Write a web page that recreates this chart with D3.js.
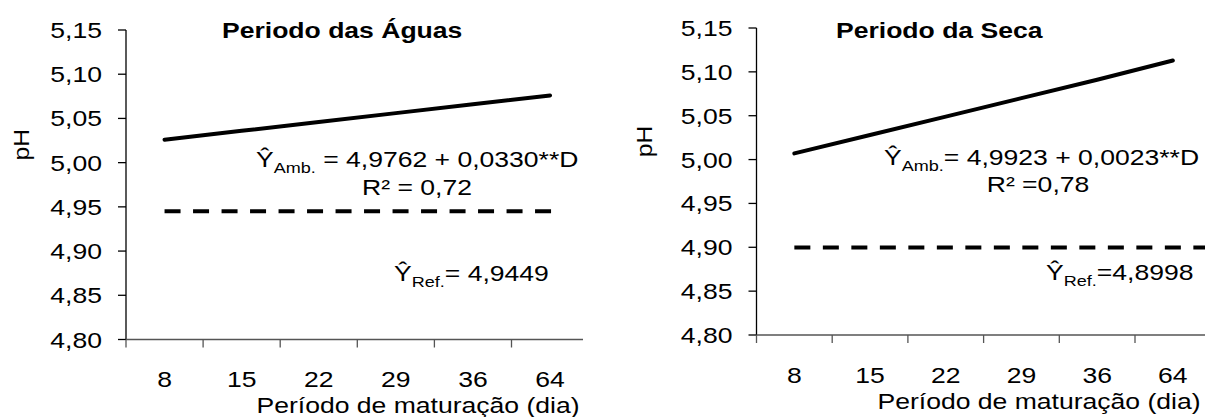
<!DOCTYPE html>
<html>
<head>
<meta charset="utf-8">
<script src="https://cdn.jsdelivr.net/npm/d3@7"></script>
<style>
  html, body { margin: 0; padding: 0; background: #fff; }
  svg { display: block; font-family: "Liberation Sans", Arial, sans-serif; }
</style>
</head>
<body>
<svg id="chart" width="1205" height="417"></svg>
<script>
// Maturation days (categories) and pH tick values
const categories = ["8", "15", "22", "29", "36", "64"];
const yTicks = [4.80, 4.85, 4.90, 4.95, 5.00, 5.05, 5.10, 5.15];

// Período das Águas
const ambAguas = [5.026, 5.036, 5.046, 5.056, 5.066, 5.076];
const refAguas = [4.9449, 4.9449, 4.9449, 4.9449, 4.9449, 4.9449];

// Período da Seca
const ambSeca = [5.007, 5.028, 5.049, 5.070, 5.091, 5.113];
const refSeca = [4.8998, 4.8998, 4.8998, 4.8998, 4.8998, 4.8998];

const panels = [
  {
    title: "Periodo das Águas", amb: ambAguas, ref: refAguas,
    eqAmb: " = 4,9762 + 0,0330**D", r2: "R² = 0,72", eqRef: "= 4,9449",
    x0: 126, step: 77.1, xEnd: 583, yTop: 30, yBot: 339.5, refExt: 12,
    titleX: 222, titleY: 38, eqX: 256, r2X: 417, refX: 394, pHX: 29, xTitleX: 418,
    eqY: 167, r2Y: 195, refY: 281, tickY: 387, xTitleY: 412.5
  },
  {
    title: "Periodo da Seca", amb: ambSeca, ref: refSeca,
    eqAmb: "= 4,9923 + 0,0023**D", r2: "R² =0,78", eqRef: "=4,8998",
    x0: 756.5, step: 75.7, xEnd: 1205, yTop: 28, yBot: 335, refExt: 40,
    titleX: 836, titleY: 38, eqX: 884, r2X: 1038, refX: 1046, pHX: 652, xTitleX: 1039,
    eqY: 165, r2Y: 192, refY: 280, tickY: 383, xTitleY: 409
  }
];

const FS = 22.5;   // base font size
const SX = 1.18;   // horizontal text stretch
const svg = d3.select("#chart");
const fmt = v => d3.format(".2f")(v).replace(".", ",");

// text at (x,y) with horizontal stretch
function stretched(g, x, y, anchor) {
  return g.append("text")
    .attr("transform", `translate(${x},${y}) scale(${SX},1)`)
    .attr("text-anchor", anchor || "start")
    .attr("font-size", FS)
    .attr("fill", "#000");
}

// Ŷ with subscript followed by the rest of the expression
function hatY(t, sub, rest) {
  t.append("tspan").text("Ŷ");
  t.append("tspan").attr("font-size", FS * 0.68).attr("dy", 6).text(sub);
  t.append("tspan").attr("dy", -6).text(rest);
}

panels.forEach(p => {
  const g = svg.append("g");
  const x = d3.scaleBand().domain(categories).range([p.x0, p.x0 + p.step * categories.length]);
  const y = d3.scaleLinear().domain([4.80, 5.15]).range([p.yBot, p.yTop]);
  const cx = c => x(c) + x.bandwidth() / 2;

  // y axis
  g.append("line").attr("x1", p.x0).attr("x2", p.x0)
    .attr("y1", y(5.15)).attr("y2", y(4.80)).attr("stroke", "#000").attr("stroke-width", 1.3);
  yTicks.forEach(v => {
    g.append("line").attr("x1", p.x0 - 8).attr("x2", p.x0)
      .attr("y1", y(v)).attr("y2", y(v)).attr("stroke", "#000").attr("stroke-width", 1.3);
    stretched(g, p.x0 - 24, y(v) + 8, "end").text(fmt(v));
  });

  // x axis with ticks between categories
  g.append("line").attr("x1", p.x0).attr("x2", p.xEnd)
    .attr("y1", p.yBot).attr("y2", p.yBot).attr("stroke", "#555").attr("stroke-width", 1.3);
  categories.forEach(c => {
    g.append("line").attr("x1", x(c)).attr("x2", x(c))
      .attr("y1", p.yBot).attr("y2", p.yBot + 8).attr("stroke", "#555").attr("stroke-width", 1.3);
    stretched(g, cx(c), p.tickY, "middle").text(c);
  });

  // axis titles
  stretched(g, p.xTitleX, p.xTitleY, "middle").text("Período de maturação (dia)");
  g.append("text")
    .attr("transform", `translate(${p.pHX},${(p.yTop + p.yBot) / 2 - 40}) rotate(-90) scale(1.1,1)`)
    .attr("text-anchor", "middle").attr("font-size", FS).text("pH");

  // regression (solid) and reference (dashed) lines
  const line = d3.line().x((d, i) => cx(categories[i])).y(d => y(d));
  g.append("path").datum(p.amb).attr("d", line)
    .attr("fill", "none").attr("stroke", "#000").attr("stroke-width", 4).attr("stroke-linecap", "round");
  const refPts = p.ref.map((v, i) => [cx(categories[i]), y(v)]);
  refPts.push([refPts[refPts.length - 1][0] + p.refExt, y(p.ref[p.ref.length - 1])]);
  g.append("path").attr("d", d3.line()(refPts))
    .attr("fill", "none").attr("stroke", "#000").attr("stroke-width", 4).attr("stroke-dasharray", "16,12.5");

  // panel title and equations
  stretched(g, p.titleX, p.titleY, "start").attr("font-weight", "bold").text(p.title);
  hatY(stretched(g, p.eqX, p.eqY, "start"), "Amb.", p.eqAmb);
  stretched(g, p.r2X, p.r2Y, "middle").text(p.r2);
  hatY(stretched(g, p.refX, p.refY, "start"), "Ref.", p.eqRef);
});
</script>
</body>
</html>
